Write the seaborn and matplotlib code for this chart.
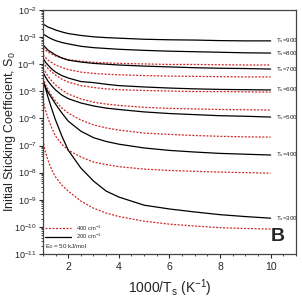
import matplotlib
matplotlib.use('Agg')
import matplotlib.pyplot as plt
import numpy as np
import pandas as pd
import seaborn as sns
from matplotlib.ticker import LogLocator, MultipleLocator, NullFormatter

# x axis: 1000/Ts (K^-1)
x = [1, 1.1, 1.2, 1.35, 1.5, 1.75, 2, 2.5, 3, 3.5, 4, 5, 6, 7, 8, 9, 10]
temps = [900, 800, 700, 600, 500, 400, 300]

# log10(S0)
# 200 cm-1 (black, solid)
log_s_200 = {
    900: [-2.52, -2.57, -2.63, -2.68, -2.74, -2.81, -2.87, -2.94, -2.99, -3.02, -3.04, -3.08, -3.10, -3.11, -3.13, -3.14, -3.14],
    800: [-2.89, -2.94, -3.00, -3.07, -3.13, -3.20, -3.25, -3.34, -3.39, -3.42, -3.45, -3.49, -3.52, -3.54, -3.56, -3.58, -3.59],
    700: [-3.29, -3.38, -3.48, -3.57, -3.66, -3.77, -3.85, -3.92, -3.97, -4.00, -4.03, -4.07, -4.10, -4.13, -4.15, -4.16, -4.18],
    600: [-3.77, -3.92, -4.03, -4.18, -4.29, -4.42, -4.51, -4.64, -4.68, -4.74, -4.79, -4.84, -4.88, -4.91, -4.93, -4.94, -4.95],
    500: [-4.29, -4.47, -4.62, -4.80, -4.95, -5.14, -5.27, -5.43, -5.54, -5.62, -5.67, -5.76, -5.82, -5.86, -5.90, -5.92, -5.95],
    400: [-4.66, -4.84, -5.03, -5.25, -5.47, -5.80, -6.10, -6.47, -6.71, -6.85, -6.95, -7.09, -7.18, -7.24, -7.29, -7.32, -7.35],
    300: [-4.58, -4.88, -5.21, -5.65, -6.06, -6.65, -7.17, -7.83, -8.31, -8.68, -8.90, -9.20, -9.34, -9.45, -9.55, -9.62, -9.68],
}

# 400 cm-1 (red, dotted)
log_s_400 = {
    900: [-3.40, -3.48, -3.55, -3.62, -3.70, -3.77, -3.83, -3.89, -3.93, -3.95, -3.97, -3.99, -4.01, -4.01, -4.02, -4.03, -4.03],
    800: [-3.66, -3.75, -3.85, -3.94, -4.03, -4.12, -4.20, -4.29, -4.34, -4.37, -4.39, -4.42, -4.44, -4.45, -4.46, -4.47, -4.47],
    700: [-3.92, -4.05, -4.16, -4.29, -4.40, -4.55, -4.66, -4.79, -4.86, -4.91, -4.94, -4.97, -4.99, -5.01, -5.01, -5.02, -5.03],
    600: [-4.14, -4.29, -4.44, -4.62, -4.77, -4.95, -5.10, -5.28, -5.40, -5.47, -5.52, -5.59, -5.63, -5.65, -5.67, -5.68, -5.69],
    500: [-4.51, -4.73, -4.92, -5.17, -5.36, -5.62, -5.80, -6.06, -6.24, -6.35, -6.43, -6.54, -6.59, -6.63, -6.66, -6.68, -6.69],
    400: [-5.32, -5.69, -5.99, -6.35, -6.65, -6.95, -7.17, -7.42, -7.61, -7.70, -7.78, -7.87, -7.92, -7.95, -7.98, -8.00, -8.02],
    300: [-6.80, -7.24, -7.54, -7.90, -8.16, -8.46, -8.68, -9.05, -9.31, -9.49, -9.62, -9.79, -9.90, -9.97, -10.03, -10.06, -10.08],
}

sns.set_style('ticks')
plt.rcParams['font.family'] = ['Liberation Sans', 'DejaVu Sans']
plt.rcParams['mathtext.fontset'] = 'custom'
plt.rcParams['mathtext.rm'] = 'Liberation Sans'
plt.rcParams['mathtext.it'] = 'Liberation Sans'

fig = plt.figure(figsize=(3.02, 3.02), dpi=100)
ax = fig.add_axes([0.142, 0.159, 0.838, 0.808])

red = '#cc2a2a'
dots = (0, (1.6, 1.2))
for t in temps:
    sns.lineplot(x=x, y=10 ** np.array(log_s_400[t]), color=red, lw=0.9, linestyle=dots, ax=ax)
    sns.lineplot(x=x, y=10 ** np.array(log_s_200[t]), color='black', lw=0.9, ax=ax)
    ax.text(10.2, 10 ** log_s_200[t][-1], 'T$_s$=%d' % t, fontsize=4.5, va='center', ha='left')

ax.set_yscale('log')
ax.set_xlim(1, 11)
ax.set_ylim(1e-11, 1e-2)
ax.set_xticks([2, 4, 6, 8, 10])
ax.xaxis.set_minor_locator(MultipleLocator(0.5))
ax.yaxis.set_major_locator(LogLocator(base=10, numticks=20))
ax.yaxis.set_minor_locator(LogLocator(base=10, subs=np.arange(2, 10), numticks=20))
ax.yaxis.set_minor_formatter(NullFormatter())
ax.tick_params(axis='both', which='major', labelsize=6.5, length=3, width=0.8, direction='out', pad=1.5)
ax.tick_params(axis='x', which='major', labelsize=7.5, pad=2.5)
ax.tick_params(axis='both', which='minor', length=1.6, width=0.6, direction='out')
for sp in ax.spines.values():
    sp.set_linewidth(0.9)
    sp.set_color('#444444')

ax.set_xlabel('1000/T$_s$ (K$^{-1}$)', fontsize=10, labelpad=4)
ax.set_ylabel('Initial Sticking Coefficient, S$_0$', fontsize=9)
ax.yaxis.set_label_coords(-0.098, 0.5)

# legend drawn by hand in the lower left corner
ax.plot([1.1, 2.1], [8.8e-11, 8.8e-11], color=red, lw=0.9, linestyle=dots)
ax.plot([1.1, 2.1], [4.4e-11, 4.4e-11], color='black', lw=0.9)
ax.text(2.3, 8.8e-11, '400 cm$^{-1}$', fontsize=4.2, va='center')
ax.text(2.3, 4.4e-11, '200 cm$^{-1}$', fontsize=4.2, va='center')
ax.text(1.1, 1.95e-11, 'E$_0$ = 50 kJ/mol', fontsize=4.5, va='center')
ax.text(0.955, 0.035, 'B', transform=ax.transAxes, fontsize=14, fontweight='bold',
        ha='right', va='bottom')

fig.savefig('out.png', dpi=100)
